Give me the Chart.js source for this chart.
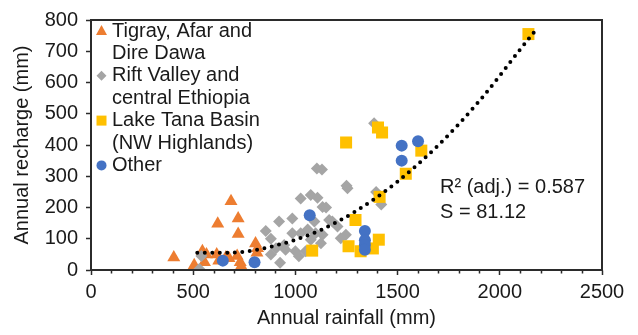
<!DOCTYPE html>
<html lang="en">
<head>
    <meta charset="UTF-8">
    <title>Annual recharge vs annual rainfall</title>
    <script src="https://cdn.jsdelivr.net/npm/chart.js"></script>
    <style>
        body { margin: 0; background: #fff; }
        canvas { display: block; }
    </style>
</head>
<body>
    <canvas id="rechargeChart" width="638" height="335"></canvas>

    <script>
        // values (rainfall mm, recharge mm)
        const tigrayRain     = [405, 505, 545, 555, 565, 615, 620, 625, 660, 675, 685, 715, 720, 720, 730, 735, 805, 812, 815];
        const tigrayRecharge = [40, 15, 60, 25, 50, 50, 148, 30, 40, 38, 220, 45, 165, 115, 25, 12, 85, 55, 70];

        const riftRain     = [530, 540, 855, 880, 880, 905, 925, 920, 945, 952, 985, 985, 1000, 1017, 1026, 1026, 1050, 1060, 1075, 1075, 1093, 1099, 1108, 1105, 1130, 1125, 1133, 1133, 1150, 1165, 1181, 1206, 1222, 1247, 1250, 1255, 1385, 1395, 1420];
        const riftRecharge = [3, 45, 125, 100, 50, 70, 23, 155, 80, 65, 165, 118, 60, 44, 229, 118, 60, 130, 240, 97, 155, 118, 231, 325, 322, 86, 113, 202, 200, 160, 155, 139, 102, 113, 270, 262, 470, 250, 210];

        const tanaRain     = [1082, 1248, 1260, 1294, 1319, 1379, 1404, 1408, 1412, 1424, 1540, 1616, 2140];
        const tanaRecharge = [62, 408, 76, 160, 60, 69, 456, 97, 234, 440, 308, 382, 755];

        const otherRain     = [645, 800, 1070, 1340, 1340, 1340, 1340, 1520, 1520, 1600];
        const otherRecharge = [30, 25, 175, 125, 95, 80, 65, 398, 350, 412];

        // dotted fitted curve
        const trendRain     = [520, 700, 900, 1100, 1300, 1500, 1700, 1900, 2100, 2185];
        const trendRecharge = [55, 56, 78, 121, 190, 283, 400, 541, 706, 775];

        const xTicks = [0, 500, 1000, 1500, 2000, 2500];
        const yTicks = [0, 100, 200, 300, 400, 500, 600, 700, 800];

        const legendItems = [
            { lines: ['Tigray, Afar and', 'Dire Dawa'], shape: 'triangle', color: '#ED7D31' },
            { lines: ['Rift Valley and', 'central Ethiopia'], shape: 'diamond', color: '#A5A5A5' },
            { lines: ['Lake Tana Basin', '(NW Highlands)'], shape: 'square', color: '#FFC000' },
            { lines: ['Other'], shape: 'circle', color: '#4472C4' }
        ];
        const fitText = ['R² (adj.) = 0.587', 'S = 81.12'];

        const FONT = 'Liberation Sans, Arial, sans-serif';
        const TEXT = '#1a1a1a';
        const AXIS = '#2b2b2b';

        function pairs(xs, ys) {
            return xs.map((x, i) => ({ x: x, y: ys[i] }));
        }

        function marker(ctx, shape, x, y, color) {
            ctx.fillStyle = color;
            ctx.beginPath();
            if (shape === 'triangle') {
                ctx.moveTo(x, y - 6);
                ctx.lineTo(x + 5.5, y + 4);
                ctx.lineTo(x - 5.5, y + 4);
            } else if (shape === 'diamond') {
                ctx.moveTo(x, y - 5);
                ctx.lineTo(x + 5, y);
                ctx.lineTo(x, y + 5);
                ctx.lineTo(x - 5, y);
            } else if (shape === 'square') {
                ctx.rect(x - 5, y - 5, 10, 10);
            } else {
                ctx.arc(x, y, 5, 0, Math.PI * 2);
            }
            ctx.closePath();
            ctx.fill();
        }

        const overlay = {
            id: 'overlay',
            afterDraw(chart) {
                const ctx = chart.ctx;
                const a = chart.chartArea;
                const xs = chart.scales.x;
                ctx.save();
                // plot frame
                ctx.strokeStyle = AXIS;
                ctx.lineWidth = 2;
                ctx.strokeRect(a.left, a.top, a.right - a.left, a.bottom - a.top);

                // short minor ticks every 100 mm on the x axis
                ctx.lineWidth = 1.5;
                ctx.beginPath();
                for (let v = 100; v < 2500; v += 100) {
                    if (v % 500 === 0) continue;
                    const px = Math.round(xs.getPixelForValue(v)) + 0.5;
                    ctx.moveTo(px, a.bottom);
                    ctx.lineTo(px, a.bottom + 3.5);
                }
                ctx.stroke();

                // legend inside the plot
                ctx.font = '20px ' + FONT;
                ctx.textBaseline = 'middle';
                ctx.textAlign = 'left';
                let y = 31;
                legendItems.forEach(item => {
                    marker(ctx, item.shape, 101.5, y, item.color);
                    item.lines.forEach(line => {
                        ctx.fillStyle = TEXT;
                        ctx.fillText(line, 112, y);
                        y += 22.4;
                    });
                });

                // fit statistics
                ctx.fillStyle = TEXT;
                ctx.fillText(fitText[0], 440, 187);
                ctx.fillText(fitText[1], 440, 212);
                ctx.restore();
            }
        };

        new Chart(document.getElementById('rechargeChart').getContext('2d'), {
            type: 'scatter',
            data: {
                datasets: [
                    {
                        label: 'Tigray, Afar and Dire Dawa',
                        data: pairs(tigrayRain, tigrayRecharge),
                        pointStyle: 'triangle',
                        pointRadius: 7.5,
                        backgroundColor: '#ED7D31',
                        borderWidth: 0,
                        order: 5
                    },
                    {
                        label: 'Rift Valley and central Ethiopia',
                        data: pairs(riftRain, riftRecharge),
                        pointStyle: 'rectRot',
                        pointRadius: 6,
                        backgroundColor: '#A5A5A5',
                        borderWidth: 0,
                        order: 4
                    },
                    {
                        label: 'Lake Tana Basin (NW Highlands)',
                        data: pairs(tanaRain, tanaRecharge),
                        pointStyle: 'rect',
                        pointRadius: 8.5,
                        backgroundColor: '#FFC000',
                        borderWidth: 0,
                        order: 3
                    },
                    {
                        label: 'Other',
                        data: pairs(otherRain, otherRecharge),
                        pointStyle: 'circle',
                        pointRadius: 6,
                        backgroundColor: '#4472C4',
                        borderWidth: 0,
                        order: 2
                    },
                    {
                        label: 'Fit',
                        data: pairs(trendRain, trendRecharge),
                        showLine: true,
                        pointRadius: 0,
                        borderColor: '#000',
                        borderWidth: 4,
                        borderDash: [0, 7.5],
                        borderCapStyle: 'round',
                        tension: 0.4,
                        cubicInterpolationMode: 'monotone',
                        order: 1
                    }
                ]
            },
            options: {
                responsive: false,
                animation: false,
                events: [],
                layout: { padding: { top: 15, right: 36, left: 0, bottom: 0 } },
                plugins: {
                    legend: { display: false },
                    tooltip: { enabled: false }
                },
                scales: {
                    x: {
                        type: 'linear',
                        min: 0,
                        max: 2500,
                        afterFit: s => { s.height = 65; },
                        afterBuildTicks: s => { s.ticks = xTicks.map(v => ({ value: v })); },
                        ticks: {
                            maxRotation: 0,
                            padding: 5,
                            color: TEXT,
                            font: { family: FONT, size: 20 },
                            callback: v => String(v)
                        },
                        grid: {
                            drawOnChartArea: false,
                            tickLength: 5,
                            tickColor: AXIS,
                            tickWidth: 1.5
                        },
                        border: { color: AXIS, width: 1.5 },
                        title: {
                            display: true,
                            text: 'Annual rainfall (mm)',
                            color: TEXT,
                            font: { family: FONT, size: 20 },
                            padding: { top: 0, bottom: 5 }
                        }
                    },
                    y: {
                        type: 'linear',
                        min: 0,
                        max: 800,
                        afterFit: s => { s.width = 91; },
                        afterBuildTicks: s => { s.ticks = yTicks.map(v => ({ value: v })); },
                        ticks: {
                            padding: 8,
                            color: TEXT,
                            font: { family: FONT, size: 20 },
                            callback: v => String(v)
                        },
                        grid: {
                            drawOnChartArea: false,
                            tickLength: 5,
                            tickColor: AXIS,
                            tickWidth: 1.5
                        },
                        border: { color: AXIS, width: 1.5 },
                        title: {
                            display: true,
                            text: 'Annual recharge (mm)',
                            color: TEXT,
                            font: { family: FONT, size: 20 },
                            padding: { top: 10, bottom: 0 }
                        }
                    }
                }
            },
            plugins: [overlay]
        });
    </script>
</body>
</html>
